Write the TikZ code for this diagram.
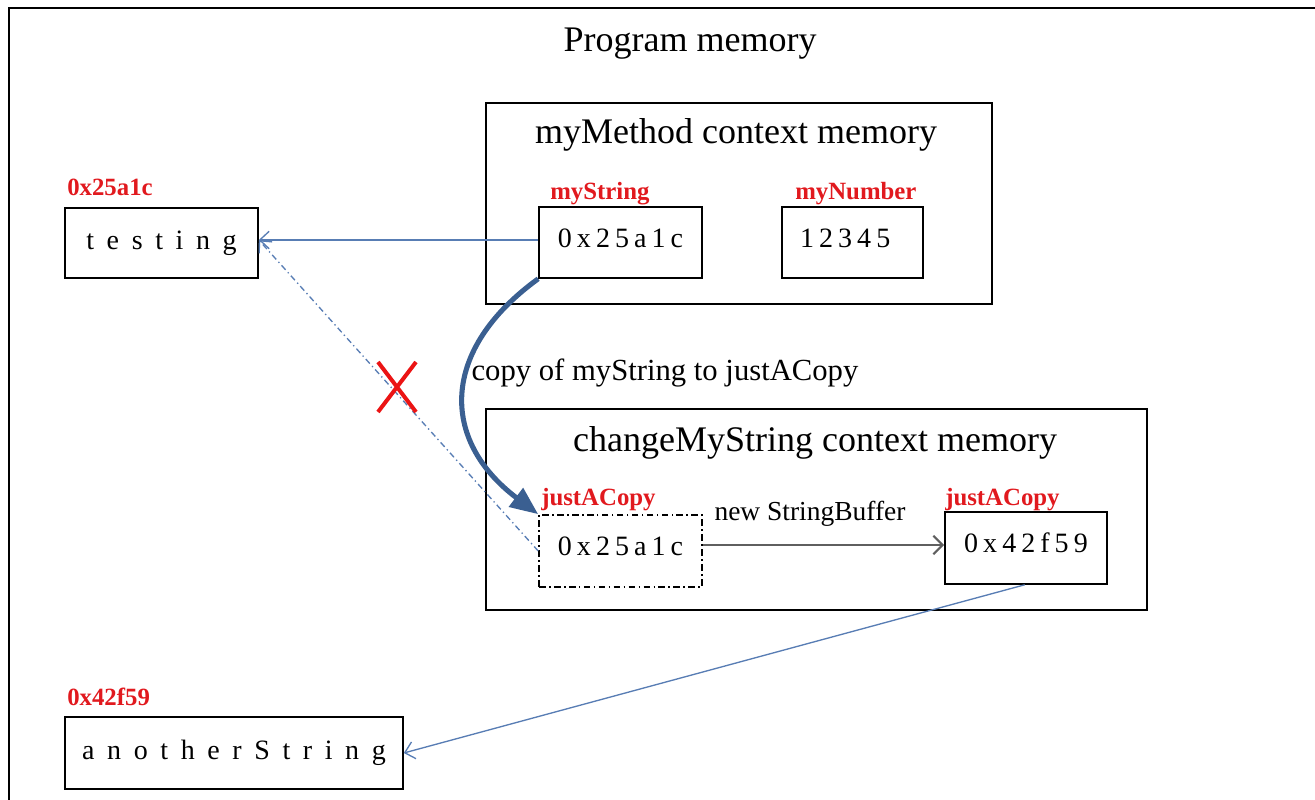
\documentclass[tikz,border=0pt]{standalone}
\usepackage{fontspec}
\setmainfont{Liberation Serif}
\usetikzlibrary{arrows.meta}

\definecolor{lblred}{RGB}{225,25,30}
\definecolor{xred}{RGB}{235,20,20}
\definecolor{ptrblue}{RGB}{88,125,180}
\definecolor{copyblue}{RGB}{58,95,145}
\definecolor{bufgray}{RGB}{95,95,95}

\newcommand\titlesize{\fontsize{27}{32}\selectfont}
\newcommand\valsize{\fontsize{21}{25}\selectfont\addfontfeature{LetterSpace=18}}
\newcommand\widesize{\fontsize{21}{25}\selectfont\addfontfeature{LetterSpace=45}}
\newcommand\addrsize{\fontsize{18.6}{22}\selectfont\bfseries}

\tikzset{
  % box size given in pixels of the 1315 x 800 canvas
  wh/.style 2 args={minimum width=#1*0.75pt, minimum height=#2*0.75pt},
  frame/.style={draw=black, line width=1.6pt},
  ctxbox/.style={draw=black, line width=1.3pt, inner sep=0pt},
  valbox/.style={draw=black, line width=1.2pt, inner sep=0pt, font=\valsize,
                 text height=14.3pt, text depth=7.5pt},
  strbox/.style={draw=black, line width=1.2pt, inner sep=0pt, font=\widesize,
                 text height=14.3pt, text depth=4.6pt},
  copybox/.style={valbox, dash pattern=on 5pt off 2.5pt on 1.2pt off 2.5pt},
  title/.style={anchor=base, inner sep=0pt, font=\titlesize},
  addr/.style={anchor=base west, inner sep=0pt, text=lblred, font=\addrsize},
  note/.style={anchor=base, inner sep=0pt},
  ptr/.style={draw=ptrblue, line width=1pt, -{Straight Barb[length=7pt,width=13pt]}},
  lostptr/.style={ptr, dash pattern=on 4.5pt off 2.5pt on 1pt off 2.5pt},
  copyarrow/.style={draw=copyblue, line width=3.8pt, -{Triangle[length=21pt,width=17pt]}},
  newarrow/.style={draw=bufgray, line width=1.6pt, -{Straight Barb[length=7pt,width=14pt]}},
  cross/.style={draw=xred, line width=3pt}
}

\begin{document}
\begin{tikzpicture}[x=0.75pt,y=-0.75pt]
  \useasboundingbox (0,0) rectangle (1315,800);
  \clip (0,0) rectangle (1315,800);

  % whole program memory
  \draw[frame] (9,8) rectangle (1330,812);
  \node[title] (prog) at (690,51) {Program memory};

  % heap strings
  \node[strbox, wh={193}{70}] (testing) at (161.5,243) {testing};
  \node[addr] (addrT) at (67,195) {0x25a1c};
  \node[strbox, wh={338}{72}] (another) at (234,753) {anotherString};
  \node[addr] (addrA) at (67,705) {0x42f59};

  % myMethod frame
  \node[ctxbox, wh={506}{201}] (mymethod) at (739,203.5) {};
  \node[title] (mmtitle) at (736,143) {myMethod context memory};
  \node[valbox, wh={163}{71}] (mystring) at (620.5,242.5) {0x25a1c};
  \node[addr] (lblMS) at (550,199) {myString};
  \node[valbox, wh={141}{71}] (mynumber) at (852.5,242.5) {12345\kern11pt};
  \node[addr] (lblMN) at (795,199) {myNumber};

  % changeMyString frame
  \node[ctxbox, wh={661}{201}] (change) at (816.5,509.5) {};
  \node[title] (cmtitle) at (815,451) {changeMyString context memory};
  \node[copybox, wh={163}{72}] (copyold) at (620.5,551) {0x25a1c};
  \node[addr] (lblC1) at (541,505) {justACopy};
  \node[valbox, wh={162}{72}] (copynew) at (1026,548) {0x42f59};
  \node[addr] (lblC2) at (945,505) {justACopy};

  % references
  \coordinate (tip) at ([yshift=2.25pt]testing.east);
  \draw[ptr] (mystring.west |- tip) -- (tip);
  \draw[lostptr] (copyold.west) -- (tip);
  \draw[cross] (378,362) -- (416,412) (416,362) -- (378,412);

  \draw[copyarrow] (mystring.south west)
     .. controls (440,350) and (440,440) .. (copyold.north west);
  \node[note, font=\fontsize{23}{27}\selectfont] (copylbl) at (665,380)
     {copy of myString to justACopy};

  \draw[newarrow] ([yshift=4.5pt]copyold.east) -- ([yshift=4.5pt]copyold.east -| copynew.west);
  \node[note, font=\fontsize{20.6}{24}\selectfont] (newlbl) at (810,520) {new StringBuffer};

  \draw[ptr] ([xshift=-1pt]copynew.south) -- (another.east);
\end{tikzpicture}
\end{document}
